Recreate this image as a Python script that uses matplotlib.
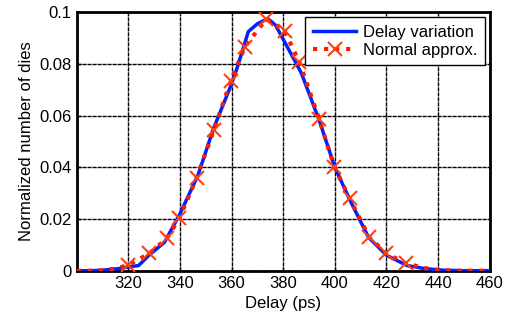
import matplotlib
matplotlib.use('Agg')
import matplotlib.pyplot as plt

plt.rcParams['font.family'] = ['Liberation Sans', 'DejaVu Sans']

# delay variation (blue solid)
delay_x = [300, 305, 310, 316, 320, 324, 328, 334, 340, 347, 353, 359.5, 362,
           366.5, 370, 374, 377, 380, 387, 394, 400, 406, 413, 420, 428, 435,
           442, 450, 460]
delay_y = [0, 0, 0.0002, 0.0008, 0.0015, 0.002, 0.006, 0.011, 0.022, 0.037,
           0.055, 0.071, 0.078, 0.0925, 0.0955, 0.0975, 0.095, 0.0895, 0.0765,
           0.058, 0.040, 0.027, 0.013, 0.006, 0.002, 0.0008, 0.0002, 0, 0]

# normal approximation (red dotted with x markers)
norm_x = [300, 305, 310, 315, 320, 328.2, 334.9, 339.8, 346.5, 353.2, 359.7,
          365.2, 373.4, 380.5, 386.3, 393.9, 399.8, 405.7, 413.4, 419.9, 427.4,
          435, 440, 445, 450, 460]
norm_y = [0, 0, 0.0002, 0.0008, 0.0022, 0.0067, 0.0125, 0.0203, 0.036, 0.0546,
          0.0734, 0.0867, 0.0973, 0.0928, 0.0806, 0.0588, 0.0402, 0.028, 0.0129,
          0.0067, 0.0029, 0.001, 0.0003, 0.0001, 0, 0]
marker_idx = list(range(4, 21))

x_ticks = [320, 340, 360, 380, 400, 420, 440, 460]
y_ticks = [0, 0.02, 0.04, 0.06, 0.08, 0.1]
y_tick_labels = ['0', '0.02', '0.04', '0.06', '0.08', '0.1']

fig = plt.figure(figsize=(5.08, 3.20), dpi=100)
ax = fig.add_axes([0.151, 0.154, 0.813, 0.808])

ax.plot(delay_x, delay_y, color='#0022ff', lw=2.5, label='Delay variation', zorder=3)
ax.plot(norm_x, norm_y, color='#ff1a00', lw=3, ls=':', marker='x', markevery=marker_idx,
        markersize=10, markeredgewidth=1.5, markeredgecolor='#ff4010',
        label='Normal approx.', zorder=4)

ax.set_xlim(300, 460)
ax.set_ylim(0, 0.1)
ax.set_xticks(x_ticks)
ax.set_yticks(y_ticks)
ax.set_yticklabels(y_tick_labels)
ax.tick_params(direction='in', labelsize=12, length=3, width=1)
ax.grid(True, color='black', ls=(0, (3, 0.6)), lw=1)
for s in ax.spines.values():
    s.set_linewidth(2)

ax.set_xlabel('Delay (ps)', fontsize=12)
ax.set_ylabel('Normalized number of dies', fontsize=12)

leg = ax.legend(loc='upper right', fontsize=12, handlelength=2.6, fancybox=False,
                framealpha=1, edgecolor='black', borderaxespad=0.3,
                borderpad=0.45, labelspacing=0.2, handletextpad=0.4)
leg.get_frame().set_linewidth(1)

fig.savefig('out.png', dpi=100)
